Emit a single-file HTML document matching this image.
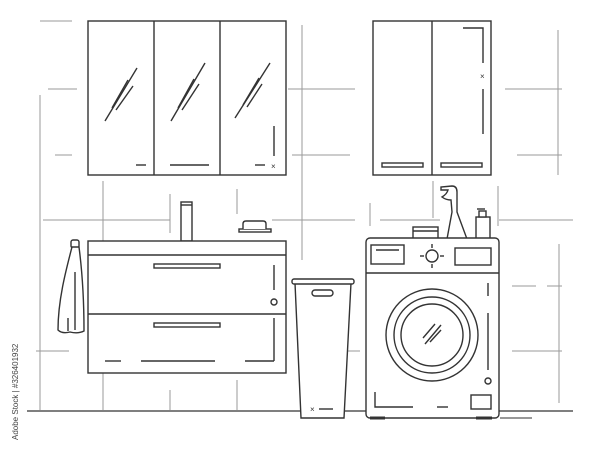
<!DOCTYPE html>
<html><head><style>html,body{margin:0;padding:0;background:#fff;width:600px;height:450px;overflow:hidden}</style></head>
<body>
<svg width="600" height="450" viewBox="0 0 600 450" xmlns="http://www.w3.org/2000/svg">
<g stroke="#9a9a9a" stroke-width="1" fill="none">
<line x1="40" y1="21" x2="72" y2="21"/>
<line x1="48" y1="89" x2="77" y2="89"/>
<line x1="55" y1="155" x2="72" y2="155"/>
<line x1="40" y1="95" x2="40" y2="410"/>
<line x1="43" y1="220" x2="170" y2="220"/>
<line x1="103" y1="181" x2="103" y2="410"/>
<line x1="170" y1="194" x2="170" y2="233"/>
<line x1="170" y1="390" x2="170" y2="410"/>
<line x1="36" y1="351" x2="69" y2="351"/>
<line x1="237" y1="189" x2="237" y2="214"/>
<line x1="237" y1="380" x2="237" y2="410"/>
<line x1="288" y1="89" x2="355" y2="89"/>
<line x1="292" y1="155" x2="350" y2="155"/>
<line x1="302" y1="25" x2="302" y2="260"/>
<line x1="272" y1="220" x2="355" y2="220"/>
<line x1="380" y1="220" x2="440" y2="220"/>
<line x1="499" y1="220" x2="573" y2="220"/>
<line x1="370" y1="203" x2="370" y2="226"/>
<line x1="433" y1="181" x2="433" y2="218"/>
<line x1="498" y1="186" x2="498" y2="226"/>
<line x1="505" y1="89" x2="562" y2="89"/>
<line x1="517" y1="155" x2="562" y2="155"/>
<line x1="558" y1="30" x2="558" y2="175"/>
<line x1="559" y1="244" x2="559" y2="403"/>
<line x1="512" y1="286" x2="536" y2="286"/>
<line x1="547" y1="286" x2="562" y2="286"/>
<line x1="512" y1="351" x2="562" y2="351"/>
<line x1="345" y1="351" x2="360" y2="351"/>
</g>
<g stroke="#333" stroke-width="1.4" fill="#fff">
<line x1="27" y1="411" x2="573" y2="411" stroke="#555"/>
<!-- mirror cabinet -->
<rect x="88" y="21" width="198" height="154"/>
<line x1="154" y1="21" x2="154" y2="175"/><line x1="220" y1="21" x2="220" y2="175"/>
<line x1="105" y1="121" x2="137" y2="68"/><line x1="112" y1="108" x2="128" y2="80"/><line x1="116" y1="110" x2="133" y2="86"/>
<line x1="171" y1="121" x2="205" y2="63"/><line x1="178" y1="108" x2="194" y2="79"/><line x1="182" y1="110" x2="199" y2="84"/>
<line x1="235" y1="118" x2="270" y2="63"/><line x1="243" y1="105" x2="259" y2="78"/><line x1="247" y1="107" x2="262" y2="84"/>
<line x1="136" y1="165" x2="146" y2="165"/><line x1="170" y1="165" x2="209" y2="165"/><line x1="255" y1="165" x2="265" y2="165"/>
<line x1="274" y1="126" x2="274" y2="156"/>
<text x="271" y="169" font-family="Liberation Sans,sans-serif" font-size="8" fill="#333" stroke="none">×</text>
<!-- right cabinet -->
<rect x="373" y="21" width="118" height="154"/>
<line x1="432" y1="21" x2="432" y2="175"/>
<polyline points="463,28 483,28 483,63" fill="none"/>
<line x1="483" y1="89" x2="483" y2="134"/>
<text x="480" y="79" font-family="Liberation Sans,sans-serif" font-size="8" fill="#333" stroke="none">×</text>
<rect x="382" y="163" width="41" height="4"/><rect x="441" y="163" width="41" height="4"/>
<!-- vanity -->
<rect x="181" y="202" width="11" height="39"/><line x1="181" y1="205" x2="192" y2="205"/>
<rect x="239" y="229" width="32" height="3"/><path d="M243,229 v-5 q0,-3 3,-3 h17 q3,0 3,3 v5"/>
<rect x="88" y="241" width="198" height="132"/>
<line x1="88" y1="255" x2="286" y2="255"/><line x1="88" y1="314" x2="286" y2="314"/>
<rect x="154" y="264" width="66" height="4"/><rect x="154" y="323" width="66" height="4"/>
<line x1="274" y1="265" x2="274" y2="290"/><circle cx="274" cy="302" r="3"/>
<line x1="274" y1="318" x2="274" y2="361"/>
<line x1="105" y1="361" x2="121" y2="361"/><line x1="141" y1="361" x2="215" y2="361"/><line x1="245" y1="361" x2="274" y2="361"/>
<!-- towel -->
<rect x="71" y="240" width="8" height="8" rx="2"/>
<path d="M72,247 C66,270 58,300 58,330 Q62,334 70,332 Q78,334 84,331 C84,300 82,270 79,247 Z"/>
<line x1="75" y1="272" x2="75" y2="330"/><line x1="68" y1="318" x2="68" y2="331"/>
<!-- basket -->
<path d="M295,283 L301,418 L344,418 L351,283 Z"/>
<rect x="292" y="279" width="62" height="5" rx="2"/>
<rect x="312" y="290" width="21" height="6" rx="3"/>
<line x1="319" y1="409" x2="333" y2="409"/>
<text x="310" y="412" font-family="Liberation Sans,sans-serif" font-size="8" fill="#333" stroke="none">×</text>
<!-- bottles -->
<rect x="413" y="227" width="25" height="12"/><line x1="413" y1="231" x2="438" y2="231"/>
<path d="M447,239 L452,212 L451,200 Q446,200 442,197 Q447,194 448,190 L441,190 L441,187 L452,186 Q457,186 457,192 L457,212 L467,239 Z"/>
<rect x="476" y="217" width="14" height="22"/><rect x="479" y="211" width="7" height="6"/><line x1="477" y1="209" x2="485" y2="209"/>
<!-- washer -->
<rect x="366" y="238" width="133" height="180" rx="4"/>
<line x1="366" y1="273" x2="499" y2="273"/>
<rect x="371" y="245" width="33" height="19"/><line x1="376" y1="250" x2="399" y2="250"/>
<circle cx="432" cy="256" r="6"/>
<line x1="432" y1="244" x2="432" y2="248"/><line x1="432" y1="264" x2="432" y2="268"/>
<line x1="420" y1="256" x2="424" y2="256"/><line x1="440" y1="256" x2="444" y2="256"/>
<rect x="455" y="248" width="36" height="17"/>
<circle cx="432" cy="335" r="46"/><circle cx="432" cy="335" r="38"/><circle cx="432" cy="335" r="31"/>
<line x1="423" y1="338" x2="435" y2="324"/><line x1="425" y1="344" x2="441" y2="325"/><line x1="430" y1="342" x2="441" y2="330"/>
<line x1="488" y1="283" x2="488" y2="296"/><line x1="488" y1="313" x2="488" y2="370"/>
<circle cx="488" cy="381" r="3"/>
<polyline points="375,392 375,407 413,407" fill="none"/>
<line x1="437" y1="407" x2="448" y2="407"/>
<rect x="471" y="395" width="20" height="14"/>
<line x1="370" y1="418" x2="385" y2="418" stroke-width="3"/><line x1="476" y1="418" x2="492" y2="418" stroke-width="3"/>
<line x1="500" y1="418" x2="532" y2="418" stroke="#777"/>
</g>
<text transform="translate(18,440) rotate(-90)" font-family="Liberation Sans,sans-serif" font-size="8" fill="#444">Adobe Stock | #326401932</text>
</svg>
</body></html>
